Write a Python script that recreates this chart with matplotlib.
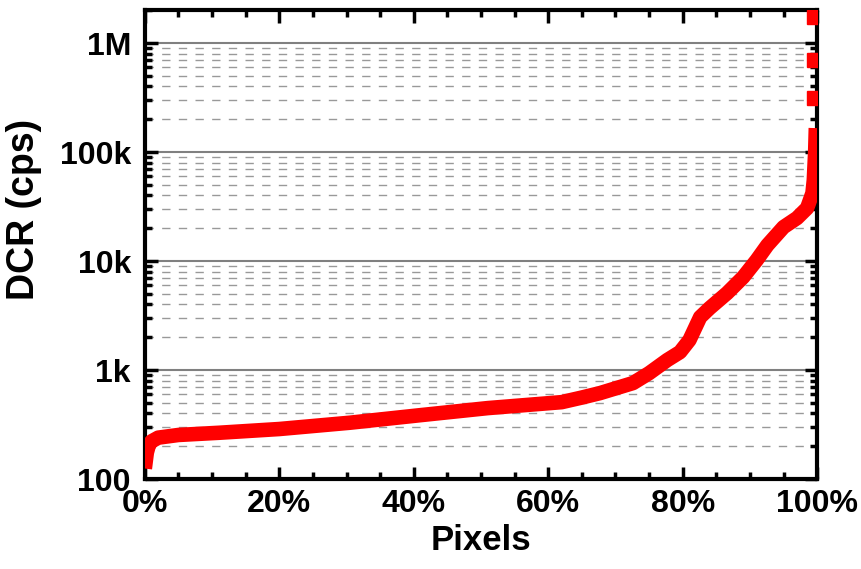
import numpy as np
import matplotlib.pyplot as plt
from matplotlib.ticker import FixedLocator, FixedFormatter, MultipleLocator, LogLocator, NullFormatter

plt.rcParams['font.family'] = ['Liberation Sans', 'DejaVu Sans']
plt.rcParams['font.weight'] = 'bold'

# sorted dark count rate per pixel
pct = [0, 0.3, 0.6, 1, 2, 5, 11, 20, 30.5, 41, 51, 62, 65, 67.7, 72.6, 75, 77.7,
       79.6, 81, 82.6, 84, 86.6, 89, 91, 92.6, 95, 97, 98.5, 99.3, 99.5, 99.7, 99.8]
dcr = [125, 175, 205, 222, 240, 254, 266, 288, 329, 386, 448, 508, 560, 615, 760,
       937, 1236, 1462, 1884, 3060, 3700, 5080, 7130, 10200, 14000, 20500, 24800,
       30600, 42000, 55300, 100000, 166000]

# a few very hot pixels drawn as separate squares
hot_pct = [99.6, 99.6, 99.6]
hot_dcr = [313000, 698000, 1750000]

ytick_vals = [100, 1e3, 1e4, 1e5, 1e6]
ytick_labels = ['100', '1k', '10k', '100k', '1M']
xtick_vals = [0, 20, 40, 60, 80, 100]
xtick_labels = ['0%', '20%', '40%', '60%', '80%', '100%']

fig = plt.figure(figsize=(8.62, 5.69), dpi=100)
ax = fig.add_axes([0.168, 0.158, 0.780, 0.824])

ax.set_yscale('log')
ax.plot(pct, dcr, color='red', lw=10.5, solid_capstyle='butt',
        solid_joinstyle='round', zorder=3)
ax.plot(hot_pct, hot_dcr, ls='none', marker='s', ms=10, color='red', zorder=3)

ax.set_xlim(0, 100)
ax.set_ylim(100, 2e6)

ax.yaxis.set_major_locator(FixedLocator(ytick_vals))
ax.yaxis.set_major_formatter(FixedFormatter(ytick_labels))
ax.yaxis.set_minor_locator(LogLocator(base=10, subs=np.arange(2, 10)))
ax.yaxis.set_minor_formatter(NullFormatter())
ax.xaxis.set_major_locator(FixedLocator(xtick_vals))
ax.xaxis.set_major_formatter(FixedFormatter(xtick_labels))
ax.xaxis.set_minor_locator(MultipleLocator(5))

ax.grid(which='major', axis='y', color='#808080', lw=1.5, ls='-')
ax.grid(which='minor', axis='y', color='#999999', lw=1.0, ls=(0, (6, 6)))
ax.set_axisbelow(True)

for s in ax.spines.values():
    s.set_linewidth(3)
ax.tick_params(which='both', direction='in', top=True, right=True, width=2.5,
               labelsize=23)
ax.tick_params(axis='x', which='major', pad=7)
ax.tick_params(axis='y', which='major', pad=10)
ax.tick_params(which='major', length=9)
ax.tick_params(which='minor', length=5)

ax.set_xlabel('Pixels', fontsize=25, fontweight='bold', labelpad=4)
ax.set_ylabel('DCR (cps)', fontsize=27, fontweight='bold')
ax.yaxis.set_label_coords(-0.153, 0.576)

fig.savefig('out.png', dpi=100)
